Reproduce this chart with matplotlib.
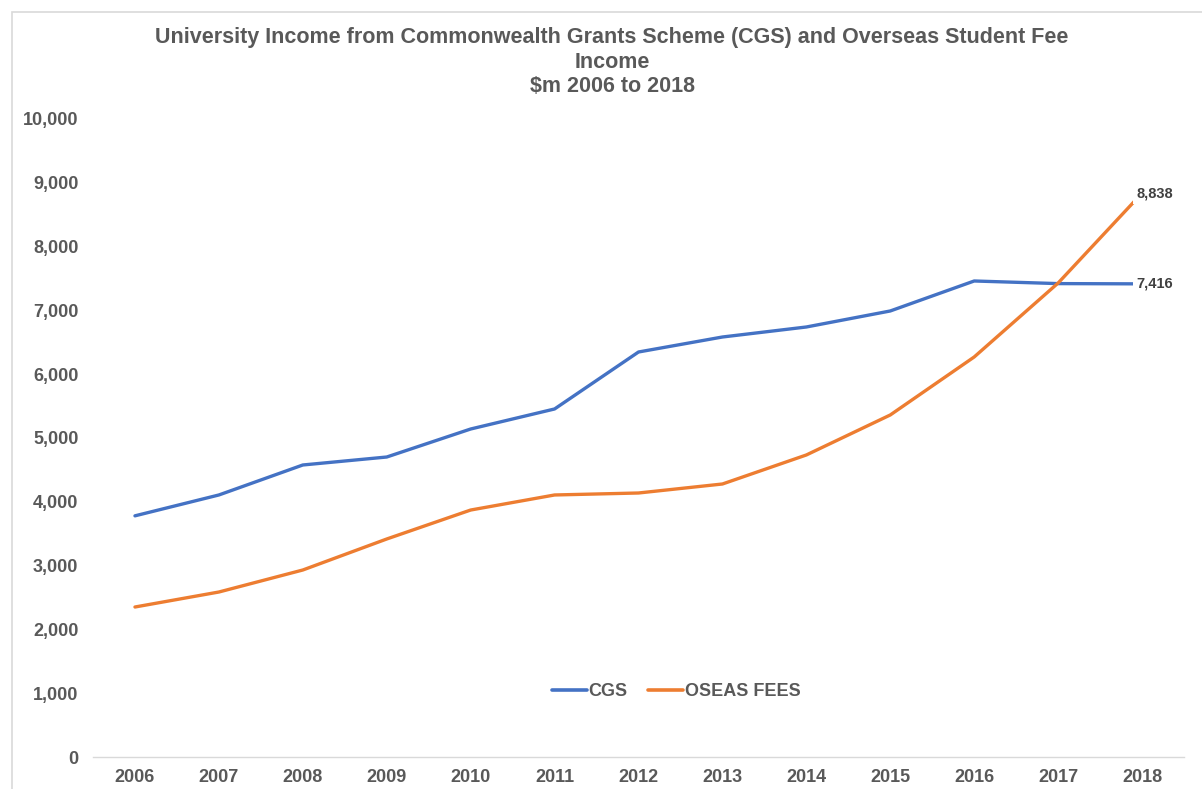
import matplotlib
matplotlib.use("Agg")
import matplotlib.pyplot as plt
from matplotlib.patches import Rectangle
from matplotlib.ticker import FuncFormatter, FixedLocator

years = ["2006", "2007", "2008", "2009", "2010", "2011", "2012",
         "2013", "2014", "2015", "2016", "2017", "2018"]
cgs = [3780, 4107, 4577, 4702, 5141, 5455, 6348, 6583, 6740, 6991, 7461, 7420, 7416]
oseas = [2351, 2586, 2931, 3417, 3871, 4107, 4138, 4279, 4734, 5361, 6270, 7429, 8838]
yticks = [0, 1000, 2000, 3000, 4000, 5000, 6000, 7000, 8000, 9000, 10000]

plt.rcParams['font.family'] = ['Liberation Sans', 'DejaVu Sans']
gray = '#595959'

fig = plt.figure(figsize=(12.02, 7.89), dpi=100)
W, H = 1202, 789
ax = fig.add_axes([93 / W, (H - 757) / H, (1184 - 93) / W, (757 - 119) / H])

x = list(range(len(years)))
ax.plot(x, cgs, color='#4472C4', lw=2.4, label='CGS', solid_capstyle='round', zorder=3)
ax.plot(x, oseas, color='#ED7D31', lw=2.4, label='OSEAS FEES', solid_capstyle='round', zorder=3)

ax.set_xlim(-0.5, len(years) - 0.5)
ax.set_ylim(0, 10000)
ax.set_xticks(x)
ax.set_xticklabels(years)
ax.yaxis.set_major_locator(FixedLocator(yticks))
ax.yaxis.set_major_formatter(FuncFormatter(lambda v, p: f"{int(v):,}"))

for s in ['top', 'right', 'left']:
    ax.spines[s].set_visible(False)
ax.spines['bottom'].set_color('#D9D9D9')
ax.spines['bottom'].set_linewidth(1.0)
ax.tick_params(axis='both', length=0, colors=gray, labelsize=13)
ax.tick_params(axis='x', pad=9)
ax.tick_params(axis='y', pad=10.5)
for lbl in ax.get_xticklabels() + ax.get_yticklabels():
    lbl.set_fontweight('bold')
    lbl.set_color(gray)

# data labels (white box covers line end, as in the original)
box = dict(boxstyle='square,pad=0.25', fc='white', ec='none')
ax.annotate(f"{oseas[-1]:,}", (x[-1], oseas[-1]), xytext=(-4, 0), textcoords='offset points',
            ha='left', va='center', fontsize=10.5, fontweight='bold', color='#404040',
            bbox=box, zorder=5, annotation_clip=False)
ax.annotate(f"{cgs[-1]:,}", (x[-1], cgs[-1]), xytext=(-4, 0), textcoords='offset points',
            ha='left', va='center', fontsize=10.5, fontweight='bold', color='#404040',
            bbox=box, zorder=5, annotation_clip=False)

leg = ax.legend(loc='center', bbox_to_anchor=((676 - 93) / (1184 - 93), (757 - 692) / (757 - 119)),
                ncol=2, frameon=False, fontsize=13, handlelength=1.95, handletextpad=0.1,
                columnspacing=1.1)
for t in leg.get_texts():
    t.set_fontweight('bold')
    t.set_color(gray)
for l in leg.get_lines():
    l.set_linewidth(2.6)

title_fs = 15.5
fig.text(612 / W, 1 - 38 / H, "University Income from Commonwealth Grants Scheme (CGS) and Overseas Student Fee",
         ha='center', va='center', fontsize=title_fs, fontweight='bold', color=gray)
fig.text(612 / W, 1 - 62 / H, "Income", ha='center', va='center', fontsize=title_fs,
         fontweight='bold', color=gray)
fig.text(612 / W, 1 - 87 / H, "$m 2006 to 2018", ha='center', va='center', fontsize=title_fs,
         fontweight='bold', color=gray)

# chart border (partially visible)
fig.patches.append(Rectangle((12 / W, -0.1), 1.2, 1 - 12 / H + 0.1, transform=fig.transFigure,
                             fill=False, edgecolor='#D9D9D9', lw=1.2))

fig.savefig("out.png", dpi=100, facecolor='white')
